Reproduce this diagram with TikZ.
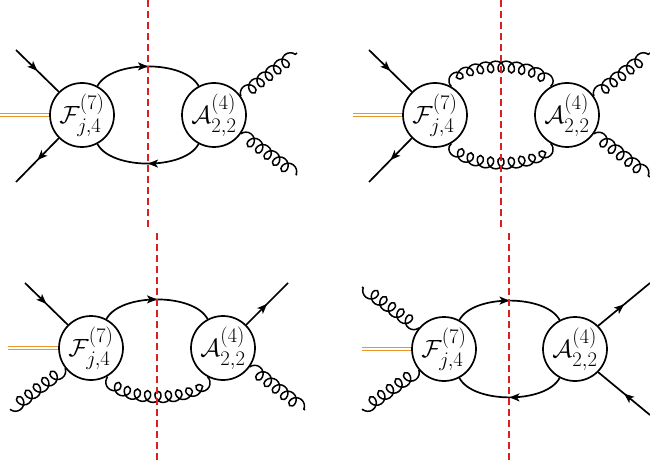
\documentclass[tikz,border=0pt]{standalone}
\usepackage{amssymb}
\usepackage{mathtools}
\usetikzlibrary{arrows.meta,decorations.pathmorphing,decorations.markings}
\definecolor{cutred}{RGB}{220,30,30}
\definecolor{higgsorange}{RGB}{235,150,40}

\begin{document}
\begin{tikzpicture}[x=1pt,y=1pt]
\tikzstyle{blob} = [circle, draw, line width=1.7pt, minimum size=64pt, inner sep=0pt, font=\Huge]
\tikzstyle{fermion} = [line width=1.7pt, postaction={decorate}, decoration={markings, mark=at position 0.5 with {\arrow{Stealth[length=10pt,width=8pt,inset=2.5pt]}}}]
\tikzstyle{gluon} = [line width=1.5pt, decorate, decoration={coil, amplitude=6pt, segment length=10.5pt, aspect=0.9}]
\tikzstyle{higgs} = [higgsorange, line width=1.1pt, double, double distance=1.3pt]
\tikzstyle{cut} = [cutred, line width=1.5pt, dash pattern=on 7pt off 4pt]
\useasboundingbox (0,0) rectangle (650,461);

% top left
\begin{scope}[shift={(82,346)}]
\node[blob] (F1) at (0,0) {$\mathcal{F}^{(7)}_{j,4}$};
\node[blob] (A1) at (132,0) {$\mathcal{A}^{(4)}_{2,2}$};
\coordinate (q1a) at (-66,65);
\coordinate (q1b) at (-66,-67);
\coordinate (h1) at (-82,0);
\coordinate (g1a) at (215,62);
\coordinate (g1b) at (215,-60);
\coordinate (c1a) at (66,115);
\coordinate (c1b) at (66,-112);
\draw[fermion] (q1a) -- (F1.135);
\draw[fermion] (F1.225) -- (q1b);
\draw[higgs] (h1) -- (F1.west);
\draw[fermion] (F1.62) to[out=62,in=118,looseness=0.75] (A1.118);
\draw[fermion] (A1.-118) to[out=-118,in=-62,looseness=0.75] (F1.-62);
\draw[gluon] (A1.35) -- (g1a);
\draw[gluon] (A1.-35) -- (g1b);
\draw[cut] (c1a) -- (c1b);
\end{scope}

% top right
\begin{scope}[shift={(435,346)}]
\node[blob] (F2) at (0,0) {$\mathcal{F}^{(7)}_{j,4}$};
\node[blob] (A2) at (132,0) {$\mathcal{A}^{(4)}_{2,2}$};
\coordinate (q2a) at (-66,65);
\coordinate (q2b) at (-66,-67);
\coordinate (h2) at (-82,0);
\coordinate (g2a) at (215,62);
\coordinate (g2b) at (215,-62);
\coordinate (c2a) at (66,115);
\coordinate (c2b) at (66,-112);
\draw[fermion] (q2a) -- (F2.135);
\draw[fermion] (F2.225) -- (q2b);
\draw[higgs] (h2) -- (F2.west);
\draw[gluon] (F2.60) to[out=62,in=118,looseness=0.75] (A2.120);
\draw[gluon] (A2.-120) to[out=-118,in=-62,looseness=0.75] (F2.-60);
\draw[gluon] (A2.35) -- (g2a);
\draw[gluon] (A2.-35) -- (g2b);
\draw[cut] (c2a) -- (c2b);
\end{scope}

% bottom left
\begin{scope}[shift={(91,113)}]
\node[blob] (F3) at (0,0) {$\mathcal{F}^{(7)}_{j,4}$};
\node[blob] (A3) at (132,0) {$\mathcal{A}^{(4)}_{2,2}$};
\coordinate (q3a) at (-66,65);
\coordinate (q3b) at (197,65);
\coordinate (h3) at (-83,0);
\coordinate (g3a) at (-81,-62);
\coordinate (g3b) at (214,-62);
\coordinate (c3a) at (66,115);
\coordinate (c3b) at (66,-113);
\draw[fermion] (q3a) -- (F3.135);
\draw[fermion] (A3.45) -- (q3b);
\draw[higgs] (h3) -- (F3.west);
\draw[fermion] (F3.62) to[out=62,in=118,looseness=0.75] (A3.118);
\draw[gluon] (A3.-118) to[out=-118,in=-62,looseness=0.75] (F3.-60);
\draw[gluon] (F3.218) -- (g3a);
\draw[gluon] (A3.-35) -- (g3b);
\draw[cut] (c3a) -- (c3b);
\end{scope}

% bottom right
\begin{scope}[shift={(444,112)}]
\node[blob] (F4) at (0,0) {$\mathcal{F}^{(7)}_{j,4}$};
\node[blob] (A4) at (131,0) {$\mathcal{A}^{(4)}_{2,2}$};
\coordinate (q4a) at (206,66);
\coordinate (q4b) at (206,-66);
\coordinate (h4) at (-82,0);
\coordinate (g4a) at (-82,62);
\coordinate (g4b) at (-82,-61);
\coordinate (c4a) at (65,116);
\coordinate (c4b) at (65,-112);
\draw[fermion] (A4.45) -- (q4a);
\draw[fermion] (q4b) -- (A4.-45);
\draw[higgs] (h4) -- (F4.west);
\draw[fermion] (F4.62) to[out=62,in=118,looseness=0.75] (A4.118);
\draw[fermion] (A4.-118) to[out=-118,in=-62,looseness=0.75] (F4.-62);
\draw[gluon] (F4.140) -- (g4a);
\draw[gluon] (F4.220) -- (g4b);
\draw[cut] (c4a) -- (c4b);
\end{scope}
\end{tikzpicture}
\end{document}
